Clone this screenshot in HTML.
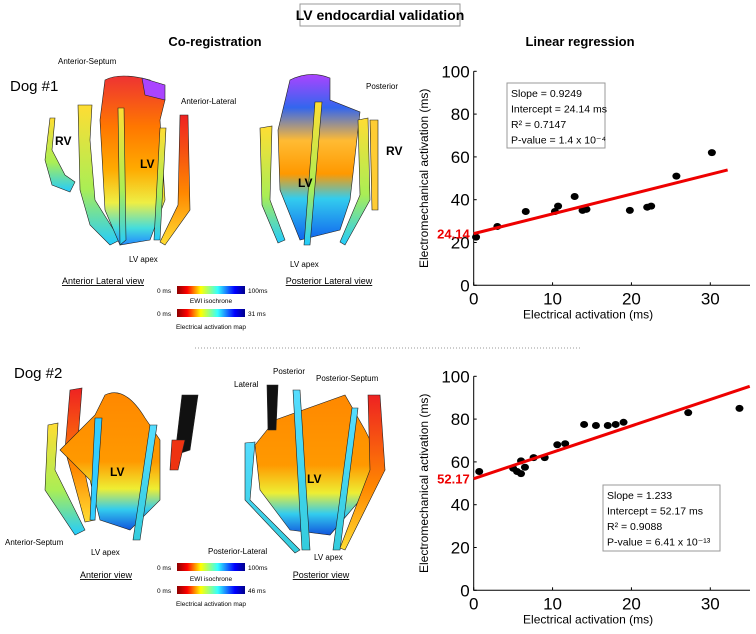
<!DOCTYPE html>
<html><head><meta charset="utf-8"><style>
body{margin:0;background:#fff;width:756px;height:634px;overflow:hidden;font-family:"Liberation Sans",sans-serif}
svg{position:absolute;left:0;top:0}
</style></head><body>
<svg width="756" height="634" viewBox="0 0 756 634">
<defs>
<linearGradient id="jet" x1="0" x2="1" y1="0" y2="0">
<stop offset="0" stop-color="#8b0000"/><stop offset="0.15" stop-color="#f00"/><stop offset="0.35" stop-color="#ff0"/><stop offset="0.6" stop-color="#3ff"/><stop offset="0.85" stop-color="#00f"/><stop offset="1" stop-color="#00008b"/></linearGradient>
<linearGradient id="h1" x1="0" x2="0" y1="0" y2="1"><stop offset="0" stop-color="#e33"/><stop offset="0.3" stop-color="#f70"/><stop offset="0.55" stop-color="#fa0"/><stop offset="0.75" stop-color="#ee4"/><stop offset="0.9" stop-color="#4dd"/><stop offset="1" stop-color="#28f"/></linearGradient>
<linearGradient id="h2" x1="0" x2="0" y1="0" y2="1"><stop offset="0" stop-color="#a4f"/><stop offset="0.2" stop-color="#36e"/><stop offset="0.4" stop-color="#fb3"/><stop offset="0.6" stop-color="#f90"/><stop offset="0.75" stop-color="#3ce"/><stop offset="1" stop-color="#16e"/></linearGradient>
<linearGradient id="h3" x1="0" x2="0" y1="0" y2="1"><stop offset="0" stop-color="#f80"/><stop offset="0.5" stop-color="#f90"/><stop offset="0.7" stop-color="#ee3"/><stop offset="0.85" stop-color="#3ce"/><stop offset="1" stop-color="#15d"/></linearGradient>
<linearGradient id="band" x1="0" x2="0" y1="0" y2="1"><stop offset="0" stop-color="#fd3"/><stop offset="0.6" stop-color="#ae5"/><stop offset="1" stop-color="#2cf"/></linearGradient>
<linearGradient id="bandR" x1="0" x2="0" y1="0" y2="1"><stop offset="0" stop-color="#e22"/><stop offset="0.6" stop-color="#f80"/><stop offset="1" stop-color="#fd3"/></linearGradient>
<linearGradient id="bandC" x1="0" x2="0" y1="0" y2="1"><stop offset="0" stop-color="#5df"/><stop offset="1" stop-color="#3cd"/></linearGradient>
</defs>

<rect x="300" y="4" width="160" height="22" fill="#fff" stroke="#999"/>
<text x="380" y="20" text-anchor="middle" font-size="14" font-weight="bold">LV endocardial validation</text>
<text x="215" y="46" text-anchor="middle" font-size="13" font-weight="bold">Co-registration</text>
<text x="580" y="46" text-anchor="middle" font-size="13" font-weight="bold">Linear regression</text>

<text x="10" y="91" font-size="15">Dog #1</text>
<g stroke="#222" stroke-width="0.6">
<path d="M50,118 L55,118 L52,150 L65,175 L75,182 L70,192 L52,185 L45,160 Z" fill="url(#band)"/>
<path d="M78,105 L92,105 L90,140 L95,200 L120,240 L110,245 L90,225 L80,190 Z" fill="url(#band)"/>
<path d="M105,80 Q120,72 150,80 L165,100 L160,120 L165,200 L150,240 L120,245 L105,210 L100,120 Z" fill="url(#h1)"/>
<path d="M118,108 L124,108 L126,240 L120,245 Z" fill="url(#band)"/>
<path d="M160,128 L166,128 L160,240 L154,240 Z" fill="url(#band)"/>
<path d="M180,115 L188,115 L190,210 L165,245 L160,242 L178,205 Z" fill="url(#bandR)"/>
<path d="M142,78 L165,85 L165,100 L145,95 Z" fill="#a4f"/>
</g>
<text x="55" y="145" font-size="12" font-weight="bold">RV</text>
<text x="140" y="168" font-size="12" font-weight="bold">LV</text>
<text x="58" y="64" font-size="8">Anterior-Septum</text>
<text x="181" y="104" font-size="8">Anterior-Lateral</text>
<text x="129" y="262" font-size="8">LV apex</text>

<g stroke="#222" stroke-width="0.6">
<path d="M260,128 L272,126 L270,200 L285,240 L278,243 L262,205 Z" fill="url(#band)"/>
<path d="M290,80 Q310,70 330,78 L330,100 L360,112 L350,200 L340,230 L300,240 L280,190 L278,130 Z" fill="url(#h2)"/>
<path d="M315,102 L322,102 L310,245 L304,245 Z" fill="url(#band)"/>
<path d="M358,120 L368,118 L370,200 L345,245 L340,242 L360,195 Z" fill="url(#band)"/>
<path d="M370,120 L378,120 L378,210 L372,210 Z" fill="#fc3"/>
</g>
<text x="298" y="187" font-size="12" font-weight="bold">LV</text>
<text x="366" y="89" font-size="8">Posterior</text>
<text x="386" y="155" font-size="12" font-weight="bold">RV</text>
<text x="290" y="267" font-size="8">LV apex</text>

<text x="103" y="284" text-anchor="middle" font-size="9" text-decoration="underline">Anterior Lateral view</text>
<text x="329" y="284" text-anchor="middle" font-size="9" text-decoration="underline">Posterior Lateral view</text>
<g font-size="6.5">
<text x="157" y="293">0 ms</text><rect x="177" y="286" width="68" height="8" fill="url(#jet)"/><text x="248" y="293">100ms</text>
<text x="211" y="303" text-anchor="middle">EWI isochrone</text>
<text x="157" y="316">0 ms</text><rect x="177" y="309" width="68" height="8" fill="url(#jet)"/><text x="248" y="316">31 ms</text>
<text x="211" y="329" text-anchor="middle">Electrical activation map</text>
</g>
<line x1="195" y1="348" x2="580" y2="348" stroke="#999" stroke-dasharray="1,2"/>

<text x="14" y="378" font-size="15">Dog #2</text>
<g stroke="#222" stroke-width="0.6">
<path d="M48,425 L58,423 L55,470 L85,530 L75,535 L45,490 Z" fill="url(#band)"/>
<path d="M70,390 L82,388 L78,440 L95,520 L85,522 L65,450 Z" fill="url(#bandR)"/>
<path d="M60,450 L95,415 L105,395 Q125,385 145,418 L160,440 L160,500 L130,530 L100,520 L90,480 Z" fill="url(#h3)"/>
<path d="M95,418 L102,418 L95,520 L90,520 Z" fill="#3cf"/>
<path d="M150,425 L157,425 L140,540 L133,540 Z" fill="url(#bandC)"/>
<path d="M182,395 L198,395 L190,450 L175,455 Z" fill="#111"/>
<path d="M172,440 L185,440 L178,470 L170,470 Z" fill="#e31"/>
</g>
<text x="110" y="476" font-size="12" font-weight="bold">LV</text>
<text x="5" y="545" font-size="8">Anterior-Septum</text>
<text x="91" y="555" font-size="8">LV apex</text>

<g stroke="#222" stroke-width="0.6">
<path d="M245,443 L255,442 L250,500 L300,550 L295,553 L245,500 Z" fill="url(#bandC)"/>
<path d="M255,445 L275,420 L345,395 L365,430 L385,470 L360,500 L330,535 L290,530 L260,490 Z" fill="url(#h3)"/>
<path d="M267,385 L278,385 L276,430 L268,430 Z" fill="#111"/>
<path d="M293,390 L300,390 L310,550 L302,550 Z" fill="url(#bandC)"/>
<path d="M352,408 L358,408 L340,550 L333,550 Z" fill="url(#bandC)"/>
<path d="M368,395 L380,395 L385,470 L345,550 L340,548 L370,470 Z" fill="url(#bandR)"/>
</g>
<text x="307" y="483" font-size="12" font-weight="bold">LV</text>
<text x="234" y="387" font-size="8">Lateral</text>
<text x="273" y="374" font-size="8">Posterior</text>
<text x="316" y="381" font-size="8">Posterior-Septum</text>
<text x="208" y="554" font-size="8">Posterior-Lateral</text>
<text x="314" y="560" font-size="8">LV apex</text>

<text x="106" y="578" text-anchor="middle" font-size="9" text-decoration="underline">Anterior view</text>
<text x="321" y="578" text-anchor="middle" font-size="9" text-decoration="underline">Posterior view</text>
<g font-size="6.5">
<text x="157" y="570">0 ms</text><rect x="177" y="563" width="68" height="8" fill="url(#jet)"/><text x="248" y="570">100ms</text>
<text x="211" y="581" text-anchor="middle">EWI isochrone</text>
<text x="157" y="593">0 ms</text><rect x="177" y="586" width="68" height="8" fill="url(#jet)"/><text x="248" y="593">46 ms</text>
<text x="211" y="606" text-anchor="middle">Electrical activation map</text>
</g>

<g id="p1"></g>
<g id="p2"></g>
</svg>
<script>
const xTicks = [0, 10, 20, 30];
const yTicks = [0, 20, 40, 60, 80, 100];
const dog1X = [0.3, 3, 6.6, 10.3, 10.7, 12.8, 13.8, 14.3, 19.8, 22, 22.5, 25.7, 30.2];
const dog1Y = [22.5, 27.5, 34.5, 34.5, 37, 41.5, 35, 35.5, 35, 36.5, 37, 51, 62];
const dog1Fit = [0.9249, 24.14];
const dog1FitRange = [0, 32.2];
const dog1Stats = ["Slope = 0.9249", "Intercept = 24.14 ms", "R² = 0.7147", "P-value = 1.4 x 10⁻⁴"];
const dog2X = [0.7, 5, 5.5, 6, 6, 6.5, 7.6, 9, 10.6, 11.6, 14, 15.5, 17, 18, 19, 27.2, 33.7];
const dog2Y = [55.5, 57, 55.5, 60.5, 54.5, 57.5, 62, 62, 68, 68.5, 77.5, 77, 77, 77.5, 78.5, 83, 85];
const dog2Fit = [1.233, 52.17];
const dog2FitRange = [0, 35];
const dog2Stats = ["Slope = 1.233", "Intercept = 52.17 ms", "R² = 0.9088", "P-value = 6.41 x 10⁻¹³"];
const NS = "http://www.w3.org/2000/svg";
function mk(parent, tag, attrs, txt){const e=document.createElementNS(NS,tag);for(const k in attrs)e.setAttribute(k,attrs[k]);if(txt!==undefined)e.textContent=txt;parent.appendChild(e);return e;}
function plot(id, top, xs, ys, fit, range, stats, box){
  const g=document.getElementById(id);
  const x0=473.7, x1=750, y0=top+214, yT=top;
  const sx=v=>x0+v*(236.6/30), sy=v=>y0-v*(214/100);
  const ax=mk(g,"path",{d:`M${x0},${yT} L${x0},${y0} L${x1},${y0}`,fill:"none",stroke:"#000","stroke-width":1});
  
  
  xTicks.forEach(t=>{const e=mk(g,"text",{x:sx(t),y:y0+19,"text-anchor":"middle","font-size":17},t);
    
    
    mk(g,"line",{x1:sx(t),x2:sx(t),y1:y0,y2:y0-3,stroke:"#000"});});
  yTicks.forEach(t=>{const e=mk(g,"text",{x:x0-4,y:sy(t)+6,"text-anchor":"end","font-size":17},t);
    
    
    mk(g,"line",{x1:x0,x2:x0+3,y1:sy(t),y2:sy(t),stroke:"#000"});});
  const xl=mk(g,"text",{x:sx(14.5),y:y0+33,"text-anchor":"middle","font-size":12},"Electrical activation (ms)");
  
  
  const yl=mk(g,"text",{x:0,y:0,"text-anchor":"middle","font-size":12,transform:`translate(428,${top+107}) rotate(-90)`},"Electromechanical activation (ms)");
  
  
  xs.forEach((v,i)=>{const c=mk(g,"ellipse",{cx:sx(v),cy:sy(ys[i]),rx:4,ry:3.5,fill:"#000"});
    
    });
  const l=mk(g,"line",{x1:sx(range[0]),y1:sy(fit[1]+fit[0]*range[0]),x2:sx(range[1]),y2:sy(fit[1]+fit[0]*range[1]),stroke:"#e00","stroke-width":3});
  
  
  const it=mk(g,"text",{x:x0-4,y:sy(fit[1])+5,"text-anchor":"end","font-size":13,"font-weight":"bold",fill:"#e00"},fit[1].toFixed(2));
  
  
  const r=mk(g,"rect",{x:box[0],y:box[1],width:box[2],height:box[3],fill:"#fff",stroke:"#999"});
  
  
  stats.forEach((s,i)=>{const t=mk(g,"text",{x:box[0]+4,y:box[1]+14+i*15.5,"font-size":10.5},s);
    
    });
}
plot("p1",71.3,dog1X,dog1Y,dog1Fit,dog1FitRange,dog1Stats,[507,83,98,65]);
plot("p2",376.3,dog2X,dog2Y,dog2Fit,dog2FitRange,dog2Stats,[603,485,117,66]);
</script>
</body></html>
